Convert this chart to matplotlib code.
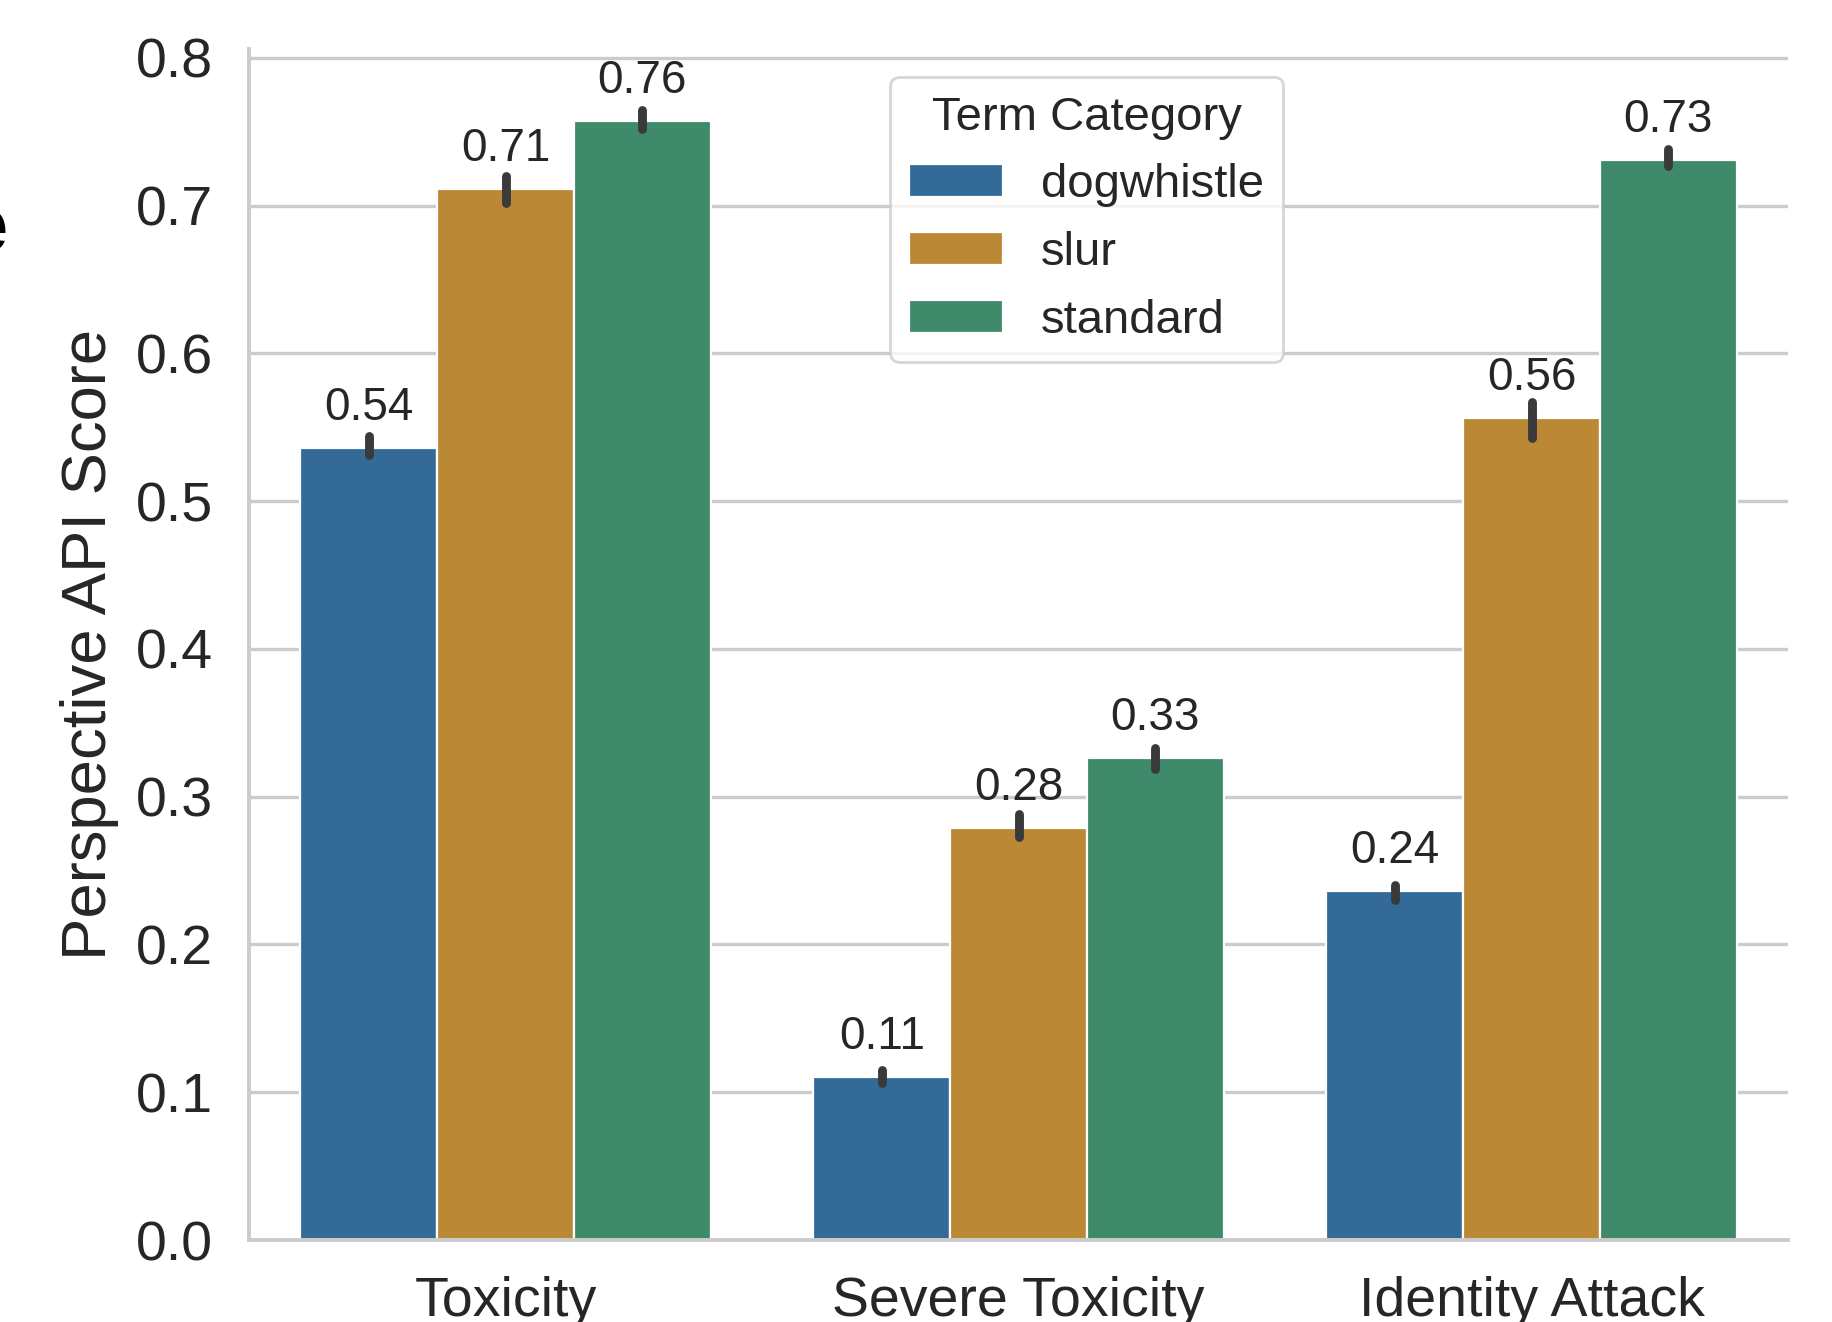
import numpy as np
import matplotlib
matplotlib.use("Agg")
import matplotlib.pyplot as plt

plt.rcParams['font.family'] = ['Liberation Sans', 'DejaVu Sans']

# mean Perspective API scores per attribute and term category
metrics = ["Toxicity", "Severe Toxicity", "Identity Attack"]
categories = ["dogwhistle", "slur", "standard"]
dogwhistle = [0.536, 0.110, 0.236]
slur = [0.711, 0.279, 0.556]
standard = [0.757, 0.326, 0.731]
# 95% CI bounds (low, high)
dogwhistle_ci = [(0.531, 0.544), (0.106, 0.115), (0.230, 0.240)]
slur_ci = [(0.702, 0.720), (0.273, 0.288), (0.543, 0.567)]
standard_ci = [(0.752, 0.765), (0.319, 0.333), (0.727, 0.738)]

colors = ["#336a98", "#bb8936", "#3f8a6b"]

fig = plt.figure(figsize=(9.16, 6.61), dpi=200)
ax = fig.add_axes([0.136, 0.062, 0.840, 0.901])

x = np.arange(len(metrics))
width = 0.8 / 3
series = [dogwhistle, slur, standard]
cis = [dogwhistle_ci, slur_ci, standard_ci]

for j, (name, vals, ci, col) in enumerate(zip(categories, series, cis, colors)):
    pos = x + (j - 1) * width
    bars = ax.bar(pos, vals, width, color=col, edgecolor="white",
                  linewidth=0.8, label=name, zorder=2)
    for p, (lo, hi) in zip(pos, ci):
        ax.plot([p, p], [lo, hi], color="#3a3a3a", lw=3.2,
                solid_capstyle="round", zorder=3)
    ax.bar_label(bars, labels=[f"{v:.2f}" for v in vals], padding=6.5,
                 fontsize=16.5, color="#262626")

ax.set_xlim(-0.5, 2.5)
ax.set_ylim(0, 0.806)
ax.set_yticks(np.arange(0, 0.81, 0.1))
ax.set_yticklabels([f"{t:.1f}" for t in np.arange(0, 0.81, 0.1)])
ax.set_xticks(x)
ax.set_xticklabels(metrics)
ax.tick_params(axis="both", length=0, labelsize=20, colors="#262626", pad=13)
ax.set_ylabel("Perspective API Score", fontsize=22.8, color="#262626",
              labelpad=6)

ax.grid(axis="y", color="#cccccc", lw=1.2, zorder=0)
ax.set_axisbelow(True)
for s in ["top", "right"]:
    ax.spines[s].set_visible(False)
for s in ["left", "bottom"]:
    ax.spines[s].set_color("#cccccc")
    ax.spines[s].set_linewidth(1.4)

leg = ax.legend(title="Term Category", loc="upper left",
                bbox_to_anchor=(0.4165, 0.9765), borderaxespad=0,
                fontsize=17, title_fontsize=17, frameon=True)
leg.get_frame().set_edgecolor("#cccccc")
for t in leg.get_texts():
    t.set_color("#262626")
leg.get_title().set_color("#262626")

# edge of a neighbouring panel's label
fig.text(8 / 1832, 0.81, "e", fontsize=28, fontweight="bold",
         ha="right", va="baseline", color="black")

fig.savefig("out.png", dpi=200)
